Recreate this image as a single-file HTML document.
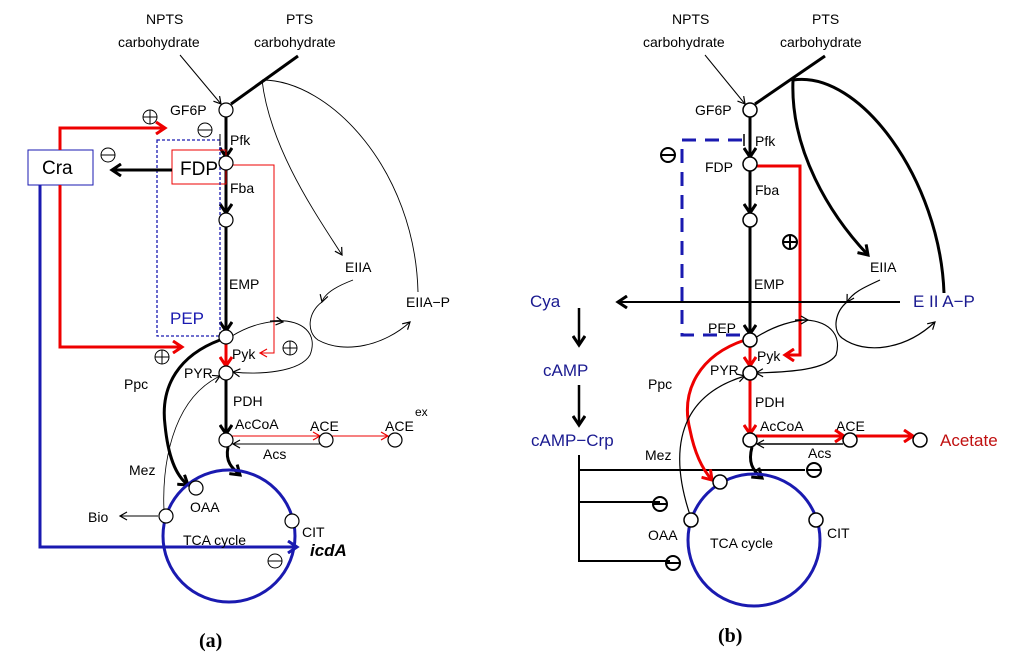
<!DOCTYPE html>
<html><head><meta charset="utf-8"><style>
html,body{margin:0;padding:0;background:#fff;}
svg{display:block;}
text{font-family:"Liberation Sans",sans-serif;font-size:14px;fill:#000;}
</style></head><body>
<svg width="1024" height="659" viewBox="0 0 1024 659" xmlns="http://www.w3.org/2000/svg">
<defs>
<marker id="ak" markerWidth="10" markerHeight="10" refX="8" refY="5" orient="auto" markerUnits="userSpaceOnUse"><path d="M1,1 L8,5 L1,9" fill="none" stroke="#000" stroke-width="1.2"/></marker>
<marker id="akb" markerWidth="14" markerHeight="14" refX="11" refY="7" orient="auto" markerUnits="userSpaceOnUse"><path d="M2,1 L11,7 L2,13" fill="none" stroke="#000" stroke-width="3"/></marker>
<marker id="ar" markerWidth="10" markerHeight="10" refX="8" refY="5" orient="auto" markerUnits="userSpaceOnUse"><path d="M1,1 L8,5 L1,9" fill="none" stroke="#e00" stroke-width="1.2"/></marker>
<marker id="arb" markerWidth="14" markerHeight="14" refX="11" refY="7" orient="auto" markerUnits="userSpaceOnUse"><path d="M2,1 L11,7 L2,13" fill="none" stroke="#e00" stroke-width="3"/></marker>
<marker id="abb" markerWidth="14" markerHeight="14" refX="11" refY="7" orient="auto" markerUnits="userSpaceOnUse"><path d="M2,1 L11,7 L2,13" fill="none" stroke="#1a1ab0" stroke-width="3"/></marker>
</defs>

<!-- ============ PANEL A ============ -->
<text x="146" y="24">NPTS</text><text x="118" y="47">carbohydrate</text>
<text x="286" y="24">PTS</text><text x="254" y="47">carbohydrate</text>
<line x1="180" y1="55" x2="221" y2="104" stroke="#000" stroke-width="1" marker-end="url(#ak)"/>
<line x1="298" y1="56" x2="231" y2="104" stroke="#000" stroke-width="3"/>
<path d="M262,80 C270,150 320,220 342,255" fill="none" stroke="#000" stroke-width="0.9" marker-end="url(#ak)"/>
<path d="M262,80 C330,80 415,170 418,292" fill="none" stroke="#000" stroke-width="0.9"/>

<line x1="226" y1="116" x2="226" y2="442" stroke="#000" stroke-width="3"/>
<line x1="226" y1="150" x2="226" y2="157" stroke="#000" stroke-width="3" marker-end="url(#akb)"/>
<line x1="226" y1="205" x2="226" y2="213" stroke="#000" stroke-width="3" marker-end="url(#akb)"/>
<line x1="226" y1="320" x2="226" y2="331" stroke="#000" stroke-width="3" marker-end="url(#akb)"/>
<line x1="226" y1="420" x2="226" y2="434" stroke="#000" stroke-width="3" marker-end="url(#akb)"/>
<line x1="226" y1="343" x2="226" y2="366" stroke="#e00" stroke-width="3" marker-end="url(#arb)"/>

<rect x="172" y="150" width="54" height="34" fill="none" stroke="#e00" stroke-width="1"/>
<rect x="157" y="140" width="63" height="196" fill="none" stroke="#1a1ab0" stroke-width="1.3" stroke-dasharray="3,2"/>
<line x1="220" y1="134" x2="220" y2="146" stroke="#000" stroke-width="1"/>
<path d="M232,165 H274 V353 H260" fill="none" stroke="#e00" stroke-width="1" marker-end="url(#ar)"/>

<rect x="28" y="150" width="65" height="35" fill="#fff" stroke="#1a1ab0" stroke-width="1"/>
<text x="42" y="174" style="font-size:19px">Cra</text>
<line x1="172" y1="170" x2="112" y2="170" stroke="#000" stroke-width="3" marker-end="url(#akb)"/>
<path d="M60,150 V128 H165" fill="none" stroke="#e00" stroke-width="3" marker-end="url(#arb)"/>
<path d="M60,185 V347 H182" fill="none" stroke="#e00" stroke-width="3" marker-end="url(#arb)"/>
<path d="M40,185 V547 H297" fill="none" stroke="#1a1ab0" stroke-width="3" marker-end="url(#abb)"/>

<text x="180" y="175" style="font-size:19px">FDP</text>
<text x="170" y="115">GF6P</text>
<text x="230" y="145">Pfk</text>
<text x="230" y="193">Fba</text>
<text x="229" y="289">EMP</text>
<text x="170" y="324" style="font-size:17px;fill:#1a1ab0">PEP</text>
<text x="232" y="359">Pyk</text>
<text x="184" y="378">PYR</text>
<text x="124" y="389">Ppc</text>
<text x="233" y="406">PDH</text>
<text x="235" y="429">AcCoA</text>
<text x="310" y="431">ACE</text>
<text x="385" y="431">ACE</text><text x="415" y="416" style="font-size:12px">ex</text>
<text x="263" y="459">Acs</text>
<text x="129" y="475">Mez</text>
<text x="345" y="272">EIIA</text>
<text x="406" y="307">EIIA−P</text>

<!-- PEP/PYR loop -->
<path d="M232,336 C250,325 270,320 283,322" fill="none" stroke="#000" stroke-width="0.9" marker-end="url(#ak)"/>
<path d="M270,321 C305,318 318,335 310,355 C300,372 260,375 233,372" fill="none" stroke="#000" stroke-width="0.9" marker-end="url(#ak)"/>
<path d="M353,280 C340,285 325,292 322,302" fill="none" stroke="#000" stroke-width="0.9" marker-end="url(#ak)"/>
<path d="M322,302 C308,312 306,332 318,340 C345,355 385,345 410,322" fill="none" stroke="#000" stroke-width="0.9" marker-end="url(#ak)"/>

<path d="M220,340 C180,355 160,385 165,425 C168,455 175,475 188,485" fill="none" stroke="#000" stroke-width="3" marker-end="url(#akb)"/>
<path d="M164,510 C162,470 170,400 220,376" fill="none" stroke="#000" stroke-width="0.8" marker-end="url(#ak)"/>
<path d="M228,447 C225,462 232,468 240,475" fill="none" stroke="#000" stroke-width="3" marker-end="url(#akb)"/>
<line x1="232" y1="436" x2="320" y2="436" stroke="#e00" stroke-width="1" marker-end="url(#ar)"/>
<line x1="332" y1="436" x2="388" y2="436" stroke="#e00" stroke-width="1" marker-end="url(#ar)"/>
<line x1="320" y1="444" x2="233" y2="444" stroke="#000" stroke-width="1" marker-end="url(#ak)"/>
<line x1="158" y1="516" x2="120" y2="516" stroke="#000" stroke-width="1" marker-end="url(#ak)"/>
<text x="88" y="522">Bio</text>

<circle cx="229" cy="536" r="66" fill="none" stroke="#1a1ab0" stroke-width="3"/>
<text x="183" y="545">TCA cycle</text>
<text x="190" y="512">OAA</text>
<text x="302" y="537">CIT</text>
<text x="310" y="556" style="font-size:17px;font-weight:bold;font-style:italic">icdA</text>

<g fill="#fff" stroke="#000" stroke-width="1.2">
<circle cx="226" cy="110" r="7"/><circle cx="226" cy="163" r="7"/><circle cx="226" cy="220" r="7"/>
<circle cx="226" cy="337" r="7"/><circle cx="226" cy="373" r="7"/><circle cx="226" cy="440" r="7"/>
<circle cx="326" cy="440" r="7"/><circle cx="395" cy="440" r="7"/>
<circle cx="196" cy="488" r="7"/><circle cx="166" cy="516" r="7"/><circle cx="292" cy="521" r="7"/>
</g>

<g stroke="#000" stroke-width="1" fill="none">
<circle cx="150" cy="117" r="7"/><path d="M143,117h14M150,110v14"/>
<circle cx="205" cy="130" r="7"/><path d="M198,130h14"/>
<circle cx="108" cy="155" r="7"/><path d="M101,155h14"/>
<circle cx="162" cy="357" r="7"/><path d="M155,357h14M162,350v14"/>
<circle cx="290" cy="348" r="7"/><path d="M283,348h14M290,341v14"/>
<circle cx="275" cy="561" r="7"/><path d="M268,561h14"/>
</g>
<text x="199" y="647" style="font-family:'Liberation Serif',serif;font-size:20px;font-weight:bold">(a)</text>

<!-- ============ PANEL B ============ -->
<text x="672" y="24">NPTS</text><text x="643" y="47">carbohydrate</text>
<text x="812" y="24">PTS</text><text x="780" y="47">carbohydrate</text>
<line x1="705" y1="55" x2="745" y2="104" stroke="#000" stroke-width="1" marker-end="url(#ak)"/>
<line x1="825" y1="56" x2="755" y2="104" stroke="#000" stroke-width="3"/>
<path d="M793,80 C790,150 830,215 868,255" fill="none" stroke="#000" stroke-width="3" marker-end="url(#akb)"/>
<path d="M793,80 C860,70 940,180 944,293" fill="none" stroke="#000" stroke-width="3"/>

<line x1="750" y1="116" x2="750" y2="340" stroke="#000" stroke-width="3"/>
<line x1="750" y1="150" x2="750" y2="157" stroke="#000" stroke-width="3" marker-end="url(#akb)"/>
<line x1="750" y1="205" x2="750" y2="213" stroke="#000" stroke-width="3" marker-end="url(#akb)"/>
<line x1="750" y1="320" x2="750" y2="334" stroke="#000" stroke-width="3" marker-end="url(#akb)"/>
<line x1="750" y1="343" x2="750" y2="366" stroke="#e00" stroke-width="3" marker-end="url(#arb)"/>
<line x1="750" y1="379" x2="750" y2="434" stroke="#e00" stroke-width="3" marker-end="url(#arb)"/>
<line x1="744" y1="134" x2="744" y2="146" stroke="#000" stroke-width="1.5"/>

<path d="M742,140 H682 V335 H745" fill="none" stroke="#1a1ab0" stroke-width="3" stroke-dasharray="14,9"/>
<path d="M757,166 H800 V355 H785" fill="none" stroke="#e00" stroke-width="3" marker-end="url(#arb)"/>

<line x1="900" y1="302" x2="618" y2="302" stroke="#000" stroke-width="2" marker-end="url(#akb)"/>
<text x="530" y="307" style="font-size:17px;fill:#1a1a90">Cya</text>
<text x="913" y="307" style="font-size:17px;fill:#1a1a90">E II A−P</text>
<line x1="579" y1="308" x2="579" y2="345" stroke="#000" stroke-width="2.5" marker-end="url(#akb)"/>
<text x="543" y="376" style="font-size:17px;fill:#1a1a90">cAMP</text>
<line x1="579" y1="385" x2="579" y2="425" stroke="#000" stroke-width="2.5" marker-end="url(#akb)"/>
<text x="531" y="446" style="font-size:17px;fill:#1a1a90">cAMP−Crp</text>
<path d="M579,455 V561 H670 M579,470 H805 M579,502 H660" fill="none" stroke="#000" stroke-width="2"/>

<text x="705" y="172">FDP</text>
<text x="695" y="115">GF6P</text>
<text x="755" y="146">Pfk</text>
<text x="755" y="195">Fba</text>
<text x="754" y="289">EMP</text>
<text x="708" y="333">PEP</text>
<text x="757" y="361">Pyk</text>
<text x="710" y="375">PYR</text>
<text x="648" y="389">Ppc</text>
<text x="755" y="407">PDH</text>
<text x="760" y="431">AcCoA</text>
<text x="836" y="431">ACE</text>
<text x="808" y="458">Acs</text>
<text x="645" y="460">Mez</text>
<text x="870" y="272">EIIA</text>
<text x="940" y="446" style="font-size:17px;fill:#c01010">Acetate</text>

<path d="M755,338 C775,325 795,320 808,320" fill="none" stroke="#000" stroke-width="1.2" marker-end="url(#ak)"/>
<path d="M795,320 C830,318 842,335 836,355 C826,370 790,372 756,373" fill="none" stroke="#000" stroke-width="1.2" marker-end="url(#ak)"/>
<path d="M880,280 C865,287 853,292 847,302" fill="none" stroke="#000" stroke-width="1.2" marker-end="url(#ak)"/>
<path d="M847,302 C835,312 832,330 842,338 C865,355 905,350 935,322" fill="none" stroke="#000" stroke-width="1.2" marker-end="url(#ak)"/>

<path d="M745,340 C700,355 680,390 690,430 C695,455 703,470 712,480" fill="none" stroke="#e00" stroke-width="3" marker-end="url(#arb)"/>
<path d="M690,515 C675,470 665,400 745,376" fill="none" stroke="#000" stroke-width="1.2" marker-end="url(#ak)"/>
<path d="M752,447 C748,462 752,470 762,478" fill="none" stroke="#000" stroke-width="3" marker-end="url(#akb)"/>
<line x1="756" y1="436" x2="844" y2="436" stroke="#e00" stroke-width="3" marker-end="url(#arb)"/>
<line x1="856" y1="436" x2="913" y2="436" stroke="#e00" stroke-width="3" marker-end="url(#arb)"/>
<line x1="843" y1="444" x2="757" y2="444" stroke="#000" stroke-width="1.5" marker-end="url(#ak)"/>

<circle cx="754" cy="540" r="66" fill="none" stroke="#1a1ab0" stroke-width="3"/>
<text x="710" y="548">TCA cycle</text>
<text x="648" y="540">OAA</text>
<text x="827" y="538">CIT</text>

<g fill="#fff" stroke="#000" stroke-width="1.5">
<circle cx="750" cy="110" r="7"/><circle cx="750" cy="164" r="7"/><circle cx="750" cy="220" r="7"/>
<circle cx="750" cy="340" r="7"/><circle cx="750" cy="373" r="7"/><circle cx="750" cy="440" r="7"/>
<circle cx="850" cy="440" r="7"/><circle cx="920" cy="440" r="7"/>
<circle cx="720" cy="482" r="7"/><circle cx="691" cy="520" r="7"/><circle cx="816" cy="520" r="7"/>
</g>

<g stroke="#000" stroke-width="2" fill="none">
<circle cx="668" cy="155" r="7"/><path d="M661,155h14"/>
<circle cx="790" cy="242" r="7"/><path d="M783,242h14M790,235v14"/>
<circle cx="814" cy="470" r="7"/><path d="M807,470h14"/>
<circle cx="660" cy="504" r="7"/><path d="M653,504h14"/>
<circle cx="673" cy="563" r="7"/><path d="M666,563h14"/>
</g>
<text x="718" y="642" style="font-family:'Liberation Serif',serif;font-size:20px;font-weight:bold">(b)</text>
</svg>
</body></html>
